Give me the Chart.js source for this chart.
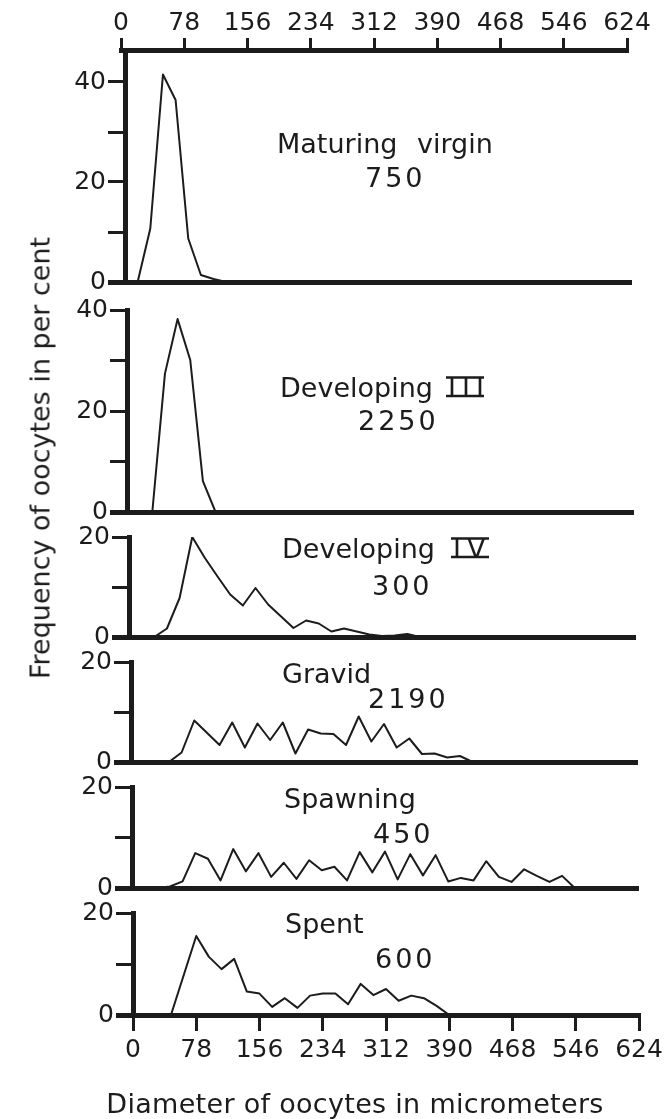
<!DOCTYPE html>
<html>
<head>
<meta charset="utf-8">
<title>Oocyte diameter frequency</title>
<script src="https://cdn.jsdelivr.net/npm/chart.js@4.4.1/dist/chart.umd.min.js"></script>
<style>
	body { margin: 0; background: #fff; }
	#figure { position: relative; width: 671px; height: 1119px; overflow: hidden; background: #fff; }
	#figure canvas { position: absolute; left: 0; }
	#yTitle {
		position: absolute; left: 40px; top: 458px;
		transform: translate(-50%, -50%) rotate(-90deg);
		font: 27px "DejaVu Sans"; color: #1c1c1c; white-space: nowrap;
	}
</style>
</head>
<body>
<div id="figure">
	<canvas id="axisTop"></canvas>
	<canvas id="panel0"></canvas>
	<canvas id="panel1"></canvas>
	<canvas id="panel2"></canvas>
	<canvas id="panel3"></canvas>
	<canvas id="panel4"></canvas>
	<canvas id="panel5"></canvas>
	<div id="yTitle">Frequency of oocytes in per cent</div>
</div>
<script>
// 지름 구간 (micrometers), 15.6 간격
const diameters = [15.6, 31.2, 46.8, 62.4, 78, 93.6, 109.2, 124.8, 140.4, 156,
	171.6, 187.2, 202.8, 218.4, 234, 249.6, 265.2, 280.8, 296.4, 312,
	327.6, 343.2, 358.8, 374.4, 390, 405.6, 421.2, 436.8, 452.4, 468,
	483.6, 499.2, 514.8, 530.4, 546];

// 단계별 빈도 (%), diameters 와 같은 순서. null = 꺾이는 점 없음
const maturingVirgin = [0, 10.7, 41.5, 36.4, 8.7, 1.4, 0.6, 0];
const developingIII = [null, 0, 27.4, 38.2, 30.1, 6.1, 0];
const developingIV = [null, 0, 1.7, 7.8, 20.0, 15.8, 12.1, 8.5, 6.3, 9.8,
	6.5, null, 1.8, 3.3, 2.7, 1.1, 1.7, 1.1, 0.5, 0.2,
	0.3, 0.6, 0];
const gravid = [null, null, 0, 1.9, 8.3, null, 3.4, 7.9, 2.9, 7.7,
	4.4, 7.9, 1.7, 6.5, 5.7, 5.6, 3.4, 9.1, 4.1, 7.6,
	2.9, 4.7, 1.6, 1.7, 0.9, 1.2, 0];
const spawning = [null, 0, 0.3, 1.3, 6.9, 5.8, 1.5, 7.7, 3.3, 6.9,
	2.2, 5.0, 1.8, 5.5, 3.5, 4.2, 1.5, 7.1, 3.1, 7.2,
	1.7, 6.7, 2.5, 6.5, 1.3, 2.0, 1.5, 5.3, 2.2, 1.2,
	3.7, 2.4, 1.2, 2.4, 0];
const spent = [null, null, 0, null, 15.5, 11.4, 9.0, 11.0, 4.6, 4.2,
	1.6, 3.3, 1.4, 3.8, 4.2, 4.2, 2.1, 6.1, 3.9, 5.1,
	2.8, 3.8, 3.3, 1.8, 0];

const stageSeries = [maturingVirgin, developingIII, developingIV, gravid, spawning, spent];
const stageNames = ['Maturing virgin', 'Developing', 'Developing', 'Gravid', 'Spawning', 'Spent'];
const stageNumerals = ['', 'III', 'IV', '', '', ''];
const sampleSizes = ['750', '2250', '300', '2190', '450', '600'];

// 눈금
const diameterTicks = [0, 78, 156, 234, 312, 390, 468, 546, 624];
const percentTicksTall = [0, 10, 20, 30, 40];
const percentTicksShort = [0, 10, 20];
const percentLabels = [0, 20, 40];
const yMax = [46.4, 40, 20, 20, 20, 20];

const xTitle = 'Diameter of oocytes in micrometers';

// 화면 배치 (px)
const ink = '#1c1c1c';
const pageW = 671, pageH = 1119;
const plotW = 506;
const panelBoxes = [
	{ axisX: 125, top: 50,  bottom: 282 },
	{ axisX: 127, top: 310, bottom: 512 },
	{ axisX: 129, top: 537, bottom: 637 },
	{ axisX: 131, top: 662, bottom: 762 },
	{ axisX: 132, top: 787, bottom: 888 },
	{ axisX: 133, top: 913, bottom: 1015 }
];
const nameAnchors = [[277, 153], [280, 397], [282, 558], [282, 683], [284, 808], [285, 933]];
const numeralAnchors = [null, [448, 397], [453, 558], null, null, null];
const countAnchors = [[365, 187], [358, 430], [372, 595], [368, 708], [373, 843], [375, 968]];

Chart.defaults.font.family = 'DejaVu Sans';
Chart.defaults.color = ink;

const labelFont = '27px "DejaVu Sans"';
const tickFont = { family: 'DejaVu Sans', size: 25 };

// 패널 안 글자 그리기
const panelText = {
	id: 'panelText',
	afterDraw(chart, args, opts) {
		const ctx = chart.ctx;
		const top = opts.canvasTop || 0;
		ctx.save();
		ctx.fillStyle = ink;
		ctx.strokeStyle = ink;
		ctx.textBaseline = 'alphabetic';
		(opts.items || []).forEach(it => {
			ctx.font = labelFont;
			ctx.textAlign = it.align || 'left';
			ctx.letterSpacing = it.spacing || '0px';
			ctx.wordSpacing = it.wordSpacing || '0px';
			ctx.fillText(it.text, it.x, it.y - top);
			if (it.barWidth) {
				// 로마 숫자 위아래 줄
				ctx.lineWidth = 2.5;
				ctx.beginPath();
				ctx.moveTo(it.x - 2, it.y - top - 19.5);
				ctx.lineTo(it.x + it.barWidth, it.y - top - 19.5);
				ctx.moveTo(it.x - 2, it.y - top - 1);
				ctx.lineTo(it.x + it.barWidth, it.y - top - 1);
				ctx.stroke();
			}
		});
		ctx.restore();
	}
};

function toPoints(series) {
	return series.map((v, i) => ({ x: diameters[i], y: v }));
}

function setCanvas(id, top, height) {
	const canvas = document.getElementById(id);
	canvas.width = pageW;
	canvas.height = height;
	canvas.style.top = top + 'px';
	canvas.style.width = pageW + 'px';
	canvas.style.height = height + 'px';
	return canvas;
}

// 위쪽 눈금 축
function makeTopAxis() {
	const left = 121;
	const canvas = setCanvas('axisTop', 0, 70);
	new Chart(canvas, {
		type: 'line',
		data: { datasets: [] },
		options: {
			responsive: false,
			animation: false,
			layout: { padding: { left: left, right: pageW - left - plotW, top: 0, bottom: 0 } },
			plugins: { legend: { display: false }, tooltip: { enabled: false } },
			scales: {
				x: {
					type: 'linear',
					position: 'top',
					min: 0,
					max: 624,
					afterBuildTicks: s => { s.ticks = diameterTicks.map(v => ({ value: v })); },
					afterFit: s => { s.height = 50; },
					ticks: { font: tickFont, color: ink, padding: 0, maxRotation: 0, autoSkip: false },
					grid: { drawOnChartArea: false, drawTicks: true, tickLength: 12, lineWidth: 3, color: ink },
					border: { display: true, width: 5, color: ink }
				},
				y: { display: false, min: 0, max: 1 }
			}
		}
	});
}

function makePanel(i) {
	const box = panelBoxes[i];
	const isLast = i === panelBoxes.length - 1;
	const margin = 20;
	const xAxisH = isLast ? 50 : 0;
	const padBottom = isLast ? pageH - box.bottom - xAxisH : margin;
	const canvasTop = box.top - margin;
	const height = box.bottom + xAxisH + padBottom - canvasTop;
	const yAxisW = 90;
	const canvas = setCanvas('panel' + i, canvasTop, height);

	const items = [];
	items.push({
		text: stageNames[i], x: nameAnchors[i][0], y: nameAnchors[i][1],
		wordSpacing: i === 0 ? '11px' : '0px'
	});
	if (stageNumerals[i]) {
		items.push({
			text: stageNumerals[i], x: numeralAnchors[i][0], y: numeralAnchors[i][1],
			spacing: '6px', barWidth: 36
		});
	}
	items.push({ text: sampleSizes[i], x: countAnchors[i][0], y: countAnchors[i][1], spacing: '3px' });
	if (isLast) {
		items.push({ text: xTitle, x: 355, y: 1113, align: 'center', spacing: '0.3px' });
	}

	const yTicks = yMax[i] > 30 ? percentTicksTall : percentTicksShort;

	const xAxis = isLast ? {
		type: 'linear',
		min: 0,
		max: 624,
		afterBuildTicks: s => { s.ticks = diameterTicks.map(v => ({ value: v })); },
		afterFit: s => { s.height = xAxisH; },
		ticks: { font: tickFont, color: ink, padding: 4, maxRotation: 0, autoSkip: false },
		grid: { drawOnChartArea: false, drawTicks: true, tickLength: 16, lineWidth: 3, color: ink },
		border: { display: true, width: 5, color: ink }
	} : {
		type: 'linear',
		min: 0,
		max: 624,
		afterFit: s => { s.height = 0; },
		ticks: { display: false },
		grid: { display: false, drawTicks: false },
		border: { display: true, width: 5, color: ink }
	};

	new Chart(canvas, {
		type: 'line',
		data: {
			datasets: [{
				data: toPoints(stageSeries[i]),
				borderColor: ink,
				borderWidth: 2,
				borderJoinStyle: 'round',
				pointRadius: 0,
				tension: 0,
				spanGaps: true,
				fill: false
			}]
		},
		options: {
			responsive: false,
			animation: false,
			layout: {
				padding: { left: box.axisX - yAxisW, right: pageW - box.axisX - plotW, top: margin, bottom: padBottom }
			},
			plugins: {
				legend: { display: false },
				tooltip: { enabled: false },
				panelText: { canvasTop: canvasTop, items: items }
			},
			scales: {
				x: xAxis,
				y: {
					min: 0,
					max: yMax[i],
					afterBuildTicks: s => { s.ticks = yTicks.map(v => ({ value: v })); },
					afterFit: s => { s.width = yAxisW; },
					ticks: {
						font: tickFont,
						color: ink,
						padding: 2,
						callback: v => percentLabels.includes(v) ? String(v) : ''
					},
					grid: {
						drawOnChartArea: false,
						drawTicks: true,
						tickLength: 17,
						color: ink,
						lineWidth: c => (c.tick && c.tick.value === 0) ? 5 : 3
					},
					border: { display: true, width: 5, color: ink }
				}
			}
		},
		plugins: [panelText]
	});
}

makeTopAxis();
for (let i = 0; i < panelBoxes.length; i++) {
	makePanel(i);
}
</script>
</body>
</html>
